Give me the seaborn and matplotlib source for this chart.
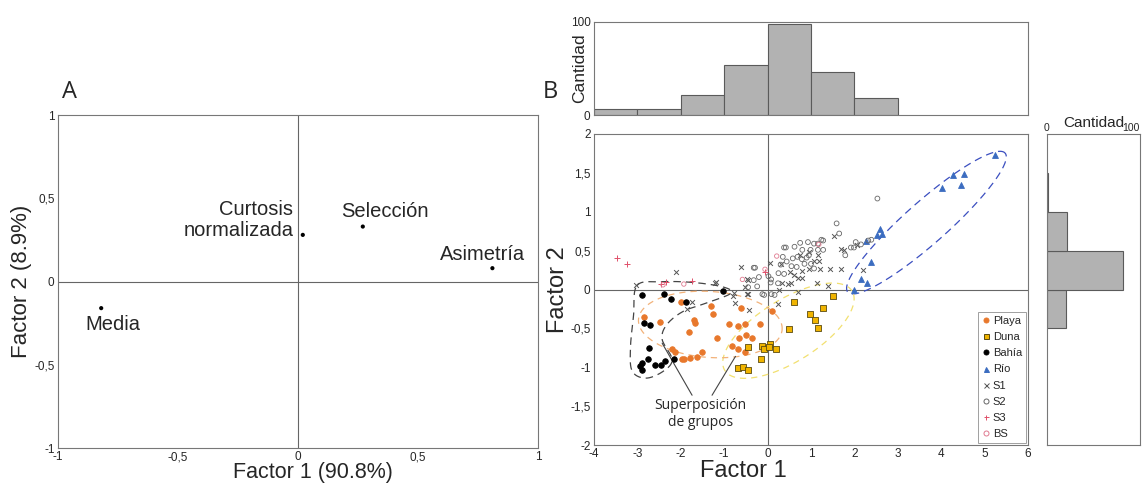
"""Factor analysis figure: loadings (A) and sample scores with marginal histograms (B)."""

import matplotlib.pyplot as plt
import numpy as np
import pandas as pd
import seaborn as sns
from matplotlib.lines import Line2D

# ---- Panel A: factor loadings ----
variables = ["Media", "Curtosis\nnormalizada", "Selección", "Asimetría"]
loading_f1 = [-0.82, 0.02, 0.27, 0.81]
loading_f2 = [-0.16, 0.28, 0.33, 0.08]

# ---- Panel B: sample scores per group ----
playa_x = [-2.85, -2.48, -2.00, -1.82, -1.69, -1.67, -1.30, -1.25, -1.16, -2.20,
           -2.13, -1.97, -1.92, -1.79, -1.62, -1.52, -0.88, -0.69, -0.62, -0.51,
           -0.49, -0.65, -0.35, -0.83, -0.69, -0.51, -0.18, 0.10, -0.01]
playa_y = [-0.36, -0.42, -0.16, -0.55, -0.39, -0.43, -0.21, -0.31, -0.63, -0.76,
           -0.80, -0.89, -0.89, -0.88, -0.87, -0.81, -0.44, -0.47, -0.24, -0.44,
           -0.59, -0.62, -0.62, -0.73, -0.76, -0.80, -0.44, -0.28, -0.74]

duna_x = [0.60, 1.51, 0.98, 1.27, 1.09, 1.15, 0.49, -0.46, -0.12, -0.08, 0.05,
          0.04, 0.19, -0.16, -0.69, -0.56, -0.46]
duna_y = [-0.16, -0.09, -0.31, -0.24, -0.39, -0.50, -0.51, -0.74, -0.73, -0.76,
          -0.70, -0.74, -0.77, -0.89, -1.01, -1.00, -1.03]

bahia_x = [-2.90, -2.39, -2.23, -1.88, -1.02, -2.84, -2.72, -2.73, -2.76, -2.89,
           -2.95, -2.89, -2.59, -2.45, -2.36, -2.16]
bahia_y = [-0.07, -0.06, -0.12, -0.16, -0.02, -0.43, -0.46, -0.75, -0.89, -0.94,
           -0.99, -1.03, -0.97, -0.97, -0.92, -0.90]

rio_x = [5.25, 4.27, 4.53, 4.02, 4.46, 2.59, 2.53, 2.63, 2.27, 2.39, 2.15, 2.29, 1.99]
rio_y = [1.73, 1.47, 1.49, 1.31, 1.35, 0.78, 0.70, 0.72, 0.63, 0.36, 0.13, 0.08, -0.01]

s1_x = [0.32, 0.52, 0.61, -0.61, -0.45, -0.52, 0.34, 0.47, 0.54, 0.26, -0.78,
        -0.47, -1.20, 1.53, 2.07, 1.70, 1.76, 1.16, 1.07, 1.19, 0.95, 1.21, 1.44,
        1.69, 2.19, 1.13, 1.40, 0.80, -2.10, -3.03, -1.74, -1.86, -0.80, -0.74,
        -0.42, -0.45, 0.69, 0.24, -0.48, 0.80, 0.69, 0.75, 0.95, 0.05, -1.22]
s1_y = [0.33, 0.23, 0.19, 0.29, 0.12, 0.03, 0.09, 0.07, 0.09, -0.01, -0.05,
        -0.06, 0.10, 0.69, 0.57, 0.52, 0.51, 0.45, 0.37, 0.37, 0.26, 0.26, 0.26,
        0.27, 0.25, 0.09, 0.05, 0.15, 0.23, 0.06, -0.16, -0.25, -0.08, -0.17,
        -0.27, -0.06, -0.03, -0.19, 0.13, 0.24, 0.15, 0.45, 0.48, 0.34, 0.09]

s2_x = [0.42, 0.38, 0.80, 0.93, 0.35, 0.58, 0.69, 0.79, 0.90, 0.44, 0.67, 0.25,
        0.38, -0.29, -0.32, -0.20, -0.32, -0.45, -0.24, 0.07, 0.08, 0.24, 0.09,
        0.16, -0.08, 2.53, 1.59, 1.65, 1.24, 1.28, 1.07, 1.16, 2.03, 2.15, 1.92,
        1.99, 1.79, 0.99, 1.16, 1.28, 0.95, 1.07, 2.32, 2.39, -0.12, 0.02, 0.55,
        0.85, 1.00, 0.30, 0.62, 0.75]
s2_y = [0.54, 0.54, 0.51, 0.61, 0.42, 0.40, 0.42, 0.39, 0.41, 0.36, 0.29, 0.21,
        0.20, 0.28, 0.28, 0.16, 0.12, 0.03, 0.04, 0.09, 0.13, 0.08, -0.06,
        -0.07, -0.07, 1.17, 0.85, 0.72, 0.64, 0.63, 0.59, 0.59, 0.61, 0.58, 0.54,
        0.54, 0.44, 0.51, 0.51, 0.51, 0.44, 0.27, 0.63, 0.64, -0.06, 0.17, 0.30,
        0.33, 0.33, 0.32, 0.55, 0.60]

s3_x = [-3.46, -3.24, -2.45, -2.35, -1.74, -0.05]
s3_y = [0.40, 0.33, 0.07, 0.10, 0.11, 0.22]

bs_x = [-2.41, -1.93, -0.58, -0.06, 0.21, 1.18]
bs_y = [0.06, 0.07, 0.13, 0.26, 0.43, 0.58]

# ---- marginal histograms ----
f1_bin_edges = [-4, -3, -2, -1, 0, 1, 2, 3]
f1_counts = [6, 6, 22, 54, 98, 46, 18]
f2_bin_edges = [-0.5, 0, 0.5, 1.0, 1.5]
f2_counts = [20, 82, 22, 1]

groups = [
    ("Playa", playa_x, playa_y, "o", "#e8782c", "#e8782c", 16),
    ("Duna", duna_x, duna_y, "s", "#f0b400", "#5a4a10", 16),
    ("Bahía", bahia_x, bahia_y, "o", "black", "black", 16),
    ("Río", rio_x, rio_y, "^", "#3b6cc0", "#3b6cc0", 18),
    ("S1", s1_x, s1_y, "x", "#555555", "#555555", 12),
    ("S2", s2_x, s2_y, "o", "none", "#666666", 12),
    ("S3", s3_x, s3_y, "+", "#e0506a", "#e0506a", 16),
    ("BS", bs_x, bs_y, "o", "none", "#e07a90", 10),
]

sns.set_style("white")
plt.rcParams["font.family"] = ["Liberation Sans", "DejaVu Sans"]

W, H = 1145, 486
fig = plt.figure(figsize=(W / 100, H / 100), dpi=100)


def frac(left, top, right, bottom):
    return [left / W, 1 - bottom / H, (right - left) / W, (bottom - top) / H]


def style_frame(ax):
    for spine in ax.spines.values():
        spine.set_color("#777777")
        spine.set_linewidth(0.8)
    ax.tick_params(length=0, labelsize=8.5, pad=2.5)


def comma(values):
    return [f"{v:g}".replace(".", ",") for v in values]


def px_scale(ax):
    pos = ax.get_position()
    x0, x1 = ax.get_xlim()
    y0, y1 = ax.get_ylim()
    return pos.width * W / (x1 - x0), pos.height * H / (y1 - y0)


def draw_ellipse(ax, cx, cy, a, b, angle, **kw):
    """Ellipse given in screen pixels around a data-space centre."""
    sx, sy = px_scale(ax)
    t = np.linspace(0, 2 * np.pi, 240)
    th = np.deg2rad(angle)
    u, v = a * np.cos(t), b * np.sin(t)
    ax.plot(cx + (u * np.cos(th) - v * np.sin(th)) / sx,
            cy + (u * np.sin(th) + v * np.cos(th)) / sy, **kw)


def smooth_closed(xs, ys, n=16):
    pts = np.column_stack([xs, ys])
    count = len(pts)
    t = np.linspace(0, 1, n, endpoint=False)[:, None]
    parts = []
    for i in range(count):
        p0, p1, p2, p3 = pts[i - 1], pts[i], pts[(i + 1) % count], pts[(i + 2) % count]
        parts.append(0.5 * (2 * p1 + (-p0 + p2) * t
                            + (2 * p0 - 5 * p1 + 4 * p2 - p3) * t ** 2
                            + (-p0 + 3 * p1 - 3 * p2 + p3) * t ** 3))
    out = np.vstack(parts + [parts[0][:1]])
    return out[:, 0], out[:, 1]


# ---------------- Panel A ----------------
axA = fig.add_axes(frac(58, 115, 538, 448))
sns.scatterplot(x=loading_f1, y=loading_f2, ax=axA, color="black", s=9,
                edgecolor="none", legend=False)
axA.axhline(0, color="#666666", lw=0.8)
axA.axvline(0, color="#666666", lw=0.8)
axA.set_xlim(-1, 1)
axA.set_ylim(-1, 1)
ticksA = [-1, -0.5, 0, 0.5, 1]
axA.set_xticks(ticksA, comma(ticksA))
axA.set_yticks(ticksA, comma(ticksA))
style_frame(axA)
axA.set_xlabel("Factor 1 (90.8%)", fontsize=15.5)
axA.xaxis.set_label_coords((313 - 58) / 480, -14 / 333, transform=axA.transAxes)
axA.set_ylabel("Factor 2 (8.9%)", fontsize=16)
axA.yaxis.set_label_coords(-(58 - 32) / 480, 0.5, transform=axA.transAxes)
label_pos = {"Media": (-0.77, -0.26, "center"),
             "Curtosis\nnormalizada": (-0.02, 0.37, "right"),
             "Selección": (0.36, 0.42, "center"),
             "Asimetría": (0.77, 0.16, "center")}
for name in variables:
    lx, ly, ha = label_pos[name]
    axA.text(lx, ly, name, ha=ha, va="center", fontsize=14.5, multialignment=ha,
             linespacing=1.15)
fig.text(70 / W, 1 - 92 / H, "A", fontsize=17, ha="center", va="center",
         family=["Open Sans", "DejaVu Sans"])

# ---------------- Panel B scatter ----------------
axB = fig.add_axes(frac(594, 134, 1028, 445))
axB.set_xlim(-4, 6)
axB.set_ylim(-2, 2)
axB.axhline(0, color="#666666", lw=0.8, zorder=1)
axB.axvline(0, color="#666666", lw=0.8, zorder=1)

handles = []
for name, gx, gy, marker, face, edge, size in groups:
    df = pd.DataFrame({"f1": gx, "f2": gy})
    if marker in ("x", "+"):
        sns.scatterplot(data=df, x="f1", y="f2", ax=axB, marker=marker, s=size,
                        color=face, linewidth=0.7, legend=False, zorder=3)
    else:
        sns.scatterplot(data=df, x="f1", y="f2", ax=axB, marker=marker, s=size,
                        facecolors=face, edgecolor=edge, linewidth=0.6,
                        legend=False, zorder=3)
    handles.append(Line2D([], [], ls="none", marker=marker, markersize=3.6,
                          markerfacecolor=face, markeredgecolor=edge,
                          markeredgewidth=0.7, label=name))

# group outlines
draw_ellipse(axB, 3.66, 0.86, 105, 21, 41.5, color="#3b4fc0", lw=0.9,
             dashes=(6, 4), zorder=2)
draw_ellipse(axB, 0.48, -0.53, 75, 31, 32, color="#f2e070", lw=0.9,
             dashes=(5, 4), zorder=2)
draw_ellipse(axB, -1.32, -0.45, 72, 33, -4, color="#f2b27a", lw=0.9,
             dashes=(5, 4), zorder=2)
outline_x = [-3.01, -2.47, -1.70, -1.01, -0.85, -1.39, -1.94, -2.32, -2.43,
             -2.20, -2.40, -2.80, -3.12, -3.16, -3.09]
outline_y = [0.05, 0.10, 0.09, 0.03, -0.05, -0.17, -0.28, -0.45, -0.64,
             -0.90, -1.05, -1.14, -1.05, -0.75, -0.34]
bx, by = smooth_closed(outline_x, outline_y)
axB.plot(bx, by, color="#444444", lw=0.9, dashes=(6, 4), zorder=2)

# overlap annotation
axB.plot([-2.43, -1.74], [-0.69, -1.36], color="#444444", lw=0.8)
axB.plot([-0.74, -1.28], [-0.86, -1.36], color="#444444", lw=0.8)
axB.text(-1.55, -1.6, "Superposición\nde grupos", ha="center", va="center",
         fontsize=10, linespacing=1.15, family=["Open Sans", "DejaVu Sans"])

ticksBx = [-4, -3, -2, -1, 0, 1, 2, 3, 4, 5, 6]
ticksBy = [-2, -1.5, -1, -0.5, 0, 0.5, 1, 1.5, 2]
axB.set_xticks(ticksBx, comma(ticksBx))
axB.set_yticks(ticksBy, comma(ticksBy))
style_frame(axB)
axB.set_xlabel("Factor 1", fontsize=17)
axB.xaxis.set_label_coords((743 - 594) / 434, -15 / 311, transform=axB.transAxes)
axB.set_ylabel("Factor 2", fontsize=17)
axB.yaxis.set_label_coords(-(594 - 569) / 434, 0.5, transform=axB.transAxes)
leg = axB.legend(handles=handles, loc="lower right", fontsize=8,
                 frameon=True, fancybox=False, edgecolor="#888888",
                 borderpad=0.4, labelspacing=0.55, handlelength=0.6,
                 handletextpad=0.3, borderaxespad=0.15)
leg.get_frame().set_linewidth(0.7)
fig.text(550 / W, 1 - 92 / H, "B", fontsize=17, ha="center", va="center",
         family=["Open Sans", "DejaVu Sans"])

# ---------------- marginal histograms ----------------
axTop = fig.add_axes(frac(594, 22, 1028, 115))
f1_centers = [(a + b) / 2 for a, b in zip(f1_bin_edges[:-1], f1_bin_edges[1:])]
sns.histplot(x=f1_centers, weights=f1_counts, bins=f1_bin_edges, ax=axTop,
             color="#b2b2b2", edgecolor="#5a5a5a", linewidth=0.8, alpha=1)
axTop.set_xlim(-4, 6)
axTop.set_ylim(0, 100)
axTop.set_xticks([])
axTop.set_yticks([0, 100])
style_frame(axTop)
axTop.set_ylabel("Cantidad", fontsize=12.5)
axTop.yaxis.set_label_coords(-(594 - 587) / 434, 0.5, transform=axTop.transAxes)
axTop.set_xlabel("")

axRight = fig.add_axes(frac(1047, 134, 1140, 445))
f2_centers = [(a + b) / 2 for a, b in zip(f2_bin_edges[:-1], f2_bin_edges[1:])]
sns.histplot(y=f2_centers, weights=f2_counts, bins=f2_bin_edges, ax=axRight,
             color="#b2b2b2", edgecolor="#5a5a5a", linewidth=0.8, alpha=1)
axRight.set_ylim(-2, 2)
axRight.set_xlim(0, 100)
axRight.set_yticks([])
axRight.xaxis.set_ticks_position("top")
axRight.xaxis.set_label_position("top")
axRight.set_xticks([0, 100])
style_frame(axRight)
axRight.tick_params(labelsize=7.5, pad=1)
for lab, ha in zip(axRight.get_xticklabels(), ["center", "right"]):
    lab.set_ha(ha)
axRight.set_xlabel("Cantidad", fontsize=11, labelpad=-3)
axRight.set_ylabel("")

fig.savefig("out.png", dpi=100)
